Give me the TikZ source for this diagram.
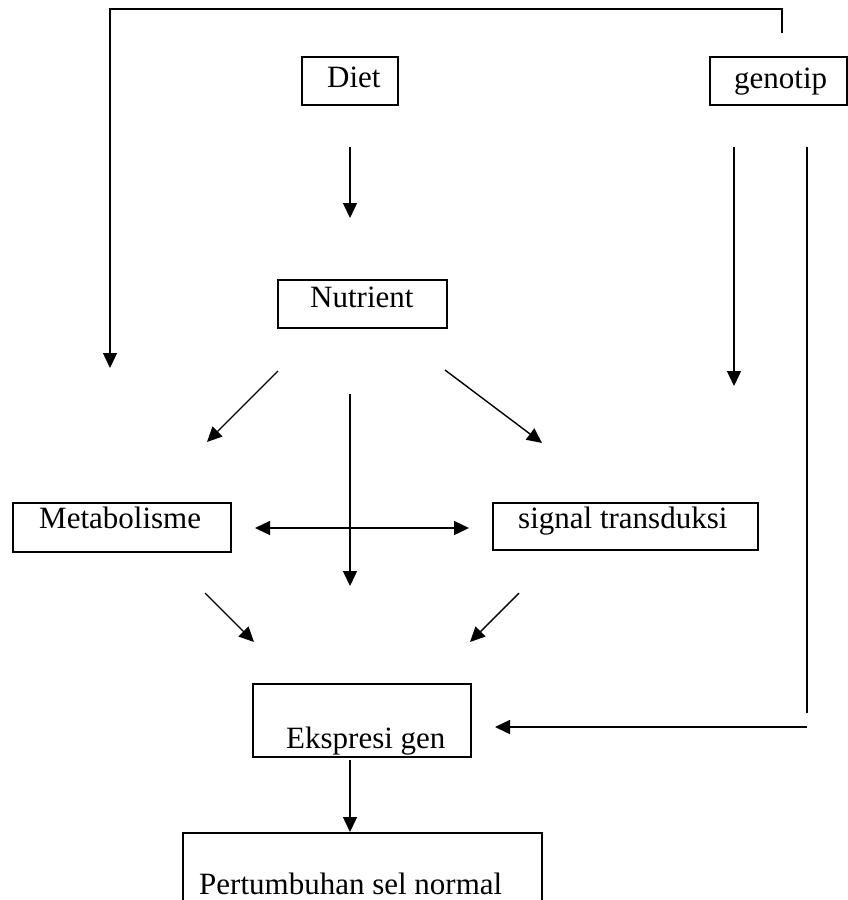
\documentclass[tikz,border=0pt]{standalone}
\usepackage{fontspec}
\setmainfont{Liberation Serif}
\usetikzlibrary{arrows.meta}
\begin{document}
\begin{tikzpicture}[x=1pt,y=-1pt,
  boxnode/.style={draw,line width=1.4pt,rectangle,inner sep=0pt,outer sep=0pt},
  txt/.style={inner sep=0pt,anchor=base west,font=\fontsize{31}{37}\selectfont},
  conn/.style={line width=1.4pt},
  arr/.style={line width=1.4pt,-{Triangle[length=15pt,width=14pt]}},
  darr/.style={line width=1.4pt,{Triangle[length=15pt,width=14pt]}-{Triangle[length=15pt,width=14pt]}}]
\clip (0,0) rectangle (848,900);
\fill[white] (0,0) rectangle (848,900);
% boxes
\node[boxnode,minimum width=96pt,minimum height=48pt] (dietbox) at (350,81) {};
\node[boxnode,minimum width=137pt,minimum height=48pt] (genbox) at (778.6,81) {};
\node[boxnode,minimum width=169pt,minimum height=48pt] (nutbox) at (362.5,304) {};
\node[boxnode,minimum width=218pt,minimum height=49pt] (metbox) at (122,527.5) {};
\node[boxnode,minimum width=265pt,minimum height=47pt] (sigbox) at (625.5,526.5) {};
\node[boxnode,minimum width=218pt,minimum height=73pt] (ekbox) at (362,720.5) {};
\node[boxnode,minimum width=359pt,minimum height=90pt] (perbox) at (362.5,878) {};
% texts
\node[txt] (diet) at (327,87) {Diet};
\node[txt] (gen) at (734,88) {genotip};
\node[txt] (nut) at (310,307) {Nutrient};
\node[txt] (met) at (39,528) {Metabolisme};
\node[txt] (sig) at (518,528) {signal transduksi};
\node[txt] (ek) at (286,748) {Ekspresi gen};
\node[txt] (per) at (199,894) {Pertumbuhan sel normal};
% connector end points
\coordinate (g0) at (782,33);
\coordinate (g1) at (782,9);
\coordinate (g2) at (110,9);
\coordinate (g3) at (110,368);
\coordinate (d0) at (350,147);
\coordinate (d1) at (350,218);
\coordinate (ga0) at (734,147);
\coordinate (ga1) at (734,386);
\coordinate (gb0) at (807,147);
\coordinate (gb1) at (807,713);
\coordinate (h0) at (807,727);
\coordinate (h1) at (495,727);
\coordinate (nl0) at (278,371);
\coordinate (nl1) at (207,442);
\coordinate (nm0) at (350,394);
\coordinate (nm1) at (350,586);
\coordinate (nr0) at (445,370);
\coordinate (nr1) at (542,443);
\coordinate (dd0) at (255,528);
\coordinate (dd1) at (469,528);
\coordinate (ml0) at (205,593);
\coordinate (ml1) at (254,642);
\coordinate (sr0) at (519,593);
\coordinate (sr1) at (470,642);
\coordinate (e0) at (350,760);
\coordinate (e1) at (350,832);
% connectors
\draw[arr] (g0) -- (g1) -- (g2) -- (g3);
\draw[arr] (d0) -- (d1);
\draw[arr] (ga0) -- (ga1);
\draw[conn] (gb0) -- (gb1);
\draw[arr] (h0) -- (h1);
\draw[arr] (nl0) -- (nl1);
\draw[arr] (nm0) -- (nm1);
\draw[arr] (nr0) -- (nr1);
\draw[darr] (dd0) -- (dd1);
\draw[arr] (ml0) -- (ml1);
\draw[arr] (sr0) -- (sr1);
\draw[arr] (e0) -- (e1);
\end{tikzpicture}
\end{document}
